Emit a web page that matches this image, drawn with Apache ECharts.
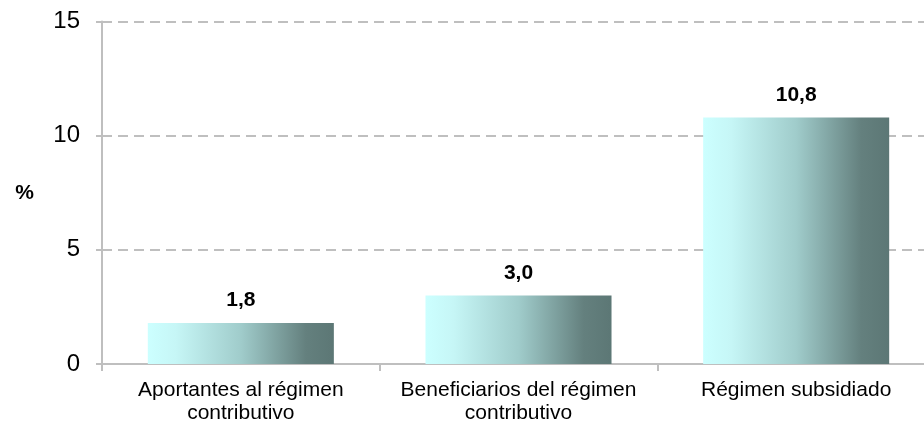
<!DOCTYPE html>
<html><head><meta charset="utf-8">
<script src="https://cdn.jsdelivr.net/npm/echarts@6/dist/echarts.min.js"></script>
<style>html,body{margin:0;padding:0;background:#fff;overflow:hidden}#c{width:935px;height:425px}</style>
</head><body><div id="c"></div>
<script>
var categories = ['Aportantes al régimen\ncontributivo', 'Beneficiarios del régimen\ncontributivo', 'Régimen subsidiado'];
var values = [1.8, 3.0, 10.8];
var yTicks = [0, 5, 10, 15];

var chart = echarts.init(document.getElementById('c'));
var grad = new echarts.graphic.LinearGradient(0, 0, 1, 0, [
  {offset: 0, color: '#ccffff'},
  {offset: 0.15, color: '#c6f6f6'},
  {offset: 0.5, color: '#a0cccb'},
  {offset: 0.85, color: '#64807e'},
  {offset: 1, color: '#5c7775'}
]);
chart.setOption({
  animation: false,
  grid: {left: 102, right: 0, top: 21.5, bottom: 61, containLabel: false},
  xAxis: {
    type: 'category', data: categories,
    axisLine: {lineStyle: {color: '#bfbfbf', width: 2}},
    axisTick: {show: true, length: 7, lineStyle: {color: '#bfbfbf', width: 2}},
    axisLabel: {color: '#000', fontFamily: 'Liberation Sans', fontSize: 21, lineHeight: 23, margin: 15, interval: 0}
  },
  yAxis: {
    type: 'value', min: yTicks[0], max: yTicks[yTicks.length - 1], interval: 5,
    name: '%', nameLocation: 'middle', nameGap: 68, nameRotate: 0,
    nameTextStyle: {color: '#000', fontFamily: 'Liberation Sans', fontSize: 21, fontWeight: 'bold'},
    axisLine: {show: true, lineStyle: {color: '#bfbfbf', width: 2}},
    axisTick: {show: true, length: 6, lineStyle: {color: '#bfbfbf', width: 2}},
    axisLabel: {color: '#000', fontFamily: 'Liberation Sans', fontSize: 24, margin: 22},
    splitLine: {lineStyle: {color: '#bfbfbf', type: [10, 6], width: 2}}
  },
  series: [{
    type: 'bar', data: values, barWidth: '67%',
    itemStyle: {color: grad},
    label: {show: true, position: 'top', distance: 12, color: '#000',
      fontFamily: 'Liberation Sans', fontSize: 21, fontWeight: 'bold',
      formatter: function (p) { return p.value.toFixed(1).replace('.', ','); }}
  }]
});
</script></body></html>
